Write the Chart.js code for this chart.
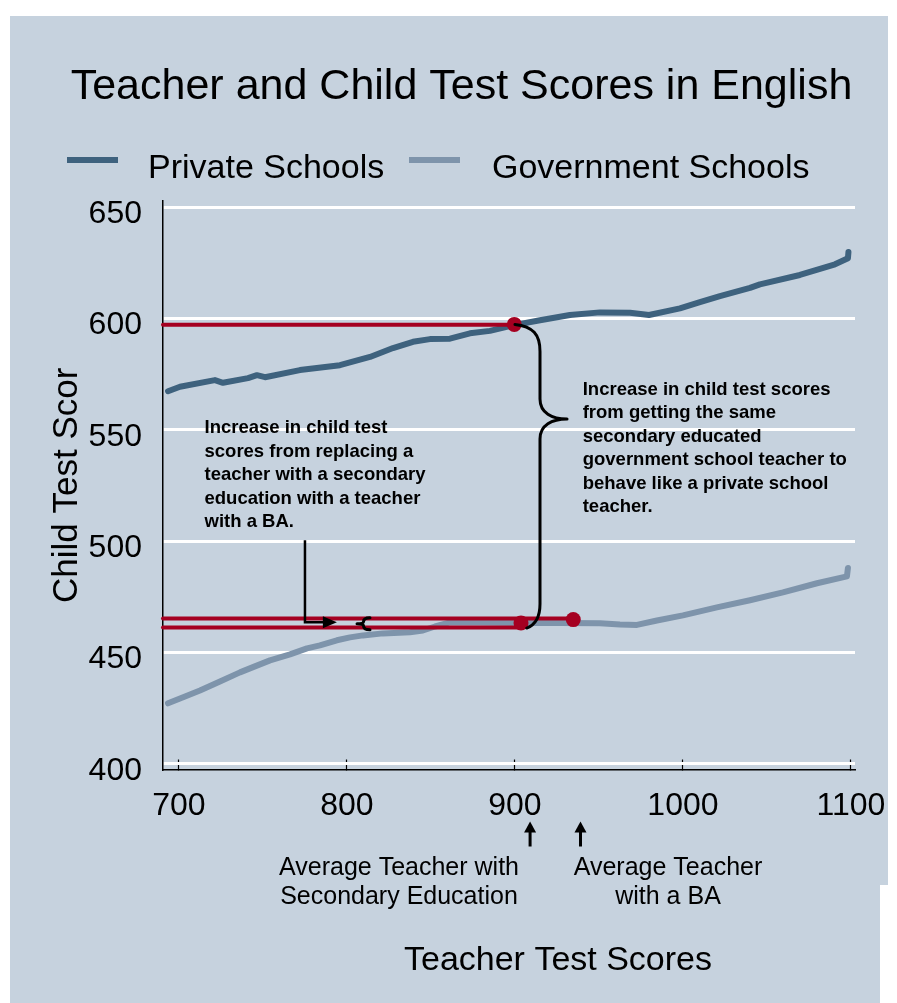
<!DOCTYPE html>
<html>
<head>
<meta charset="utf-8">
<script src="https://cdn.jsdelivr.net/npm/chart.js@4.4.1/dist/chart.umd.min.js"></script>
<style>
html,body{margin:0;padding:0;background:#ffffff;}
#wrap{position:relative;width:897px;height:1003px;}
canvas{display:block;}
</style>
</head>
<body>
<div id="wrap"><canvas id="c" width="897" height="1003"></canvas></div>
<script>
// ---------- data ----------
const seriesNames = ['Private Schools', 'Government Schools'];

const privateX = [693.5,700.6,721.4,726.2,741.1,746.4,751.2,772.0,795.8,813.7,827.4,839.3,849.4,861.3,873.2,885.1,899.4,914.9,932.7,950.6,968.5,979.8,998.2,1010.1,1022.0,1039.9,1045.8,1069.6,1090.5,1098.2,1098.5];
const privateY = [567.3,569.3,572.3,571.1,573.2,574.5,573.6,576.8,579.0,582.7,586.7,589.5,590.7,590.9,593.3,594.4,597.0,599.2,601.5,602.7,602.5,601.5,604.5,607.3,610.0,613.7,615.3,619.5,624.3,627.0,629.8];

const governmentX = [693.5,703.6,712.5,724.4,736.3,745.2,754.2,766.1,776.2,783.9,794.0,801.8,809.5,821.4,837.5,845.2,852.4,861.3,879.2,903.6,926.8,950.6,962.5,972.6,984.5,1000.0,1020.2,1039.9,1059.5,1079.8,1097.6,1098.2];
const governmentY = [427.2,430.3,433.0,437.0,441.1,443.8,446.5,449.2,451.9,453.2,455.5,456.8,457.7,458.6,459.1,459.9,461.7,463.5,463.5,463.3,463.3,463.1,462.6,462.4,464.4,466.7,470.3,473.5,477.0,481.1,484.2,488.0];

// reference levels (red lines end at these teacher scores)
const refLineEndX = [900, 934.7, 903.6];
const refLineY    = [597.2, 465.3, 461.3];
// highlighted points
const dotX = [899.6, 903.6, 934.7];
const dotY = [597.3, 463.3, 464.8];

const xTickValues = [700, 800, 900, 1000, 1100];
const yTickValues = [400, 450, 500, 550, 600, 650];
const xMin = 690.5, xMax = 1102.4;
const yMin = 397.5, yMax = 652.7;

// marker positions under the axis (teacher scores)
const avgSecondaryX = 909;
const avgBAX = 939;

const titleText = 'Teacher and Child Test Scores in English';
const yTitleText = 'Child Test Scor';
const xTitleText = 'Teacher Test Scores';
const noteLeft = ['Increase in child test','scores from replacing a','teacher with a secondary','education with a teacher','with a BA.'];
const noteRight = ['Increase in child test scores','from getting the same','secondary educated','government school teacher to','behave like a private school','teacher.'];
const labelSecondary = ['Average Teacher with','Secondary Education'];
const labelBA = ['Average Teacher','with a BA'];

// ---------- styling ----------
const FONT = "'Liberation Sans', Arial, Helvetica, sans-serif";
const C_PRIVATE = '#3e627e';
const C_GOV = '#7e94ab';
const C_RED = '#a50021';
const C_PANEL = '#c6d2de';

Chart.defaults.font.family = FONT;
Chart.defaults.color = '#000';

const pts = (xs, ys) => xs.map((x, i) => ({x: x, y: ys[i]}));

const datasets = [
  {label: seriesNames[0], data: pts(privateX, privateY), borderColor: C_PRIVATE, borderWidth: 6, order: 3},
  {label: seriesNames[1], data: pts(governmentX, governmentY), borderColor: C_GOV, borderWidth: 6, order: 3},
];
refLineEndX.forEach((xe, i) => {
  datasets.push({label: 'ref' + i, data: [{x: xMin, y: refLineY[i]}, {x: xe, y: refLineY[i]}],
    borderColor: C_RED, borderWidth: 4, order: 2});
});
datasets.push({label: 'dots', data: pts(dotX, dotY), showLine: false, pointRadius: 7.5,
  pointBackgroundColor: C_RED, pointBorderWidth: 0, borderColor: C_RED, order: 1});
datasets.forEach(d => {
  d.fill = false; d.tension = 0;
  if (d.pointRadius === undefined) d.pointRadius = 0;
  d.borderJoinStyle = 'round'; d.borderCapStyle = 'round';
  d.clip = false;
});

const panelPlugin = {
  id: 'panel',
  beforeDraw(chart) {
    const ctx = chart.ctx;
    ctx.save();
    ctx.fillStyle = C_PANEL;
    ctx.fillRect(10, 16, 878, 869);
    ctx.fillRect(10, 885, 870, 118);
    ctx.restore();
  }
};

function arrowHead(ctx, tx, ty, dx, dy, len, half) {
  const bx = tx - dx * len, by = ty - dy * len;
  ctx.beginPath();
  ctx.moveTo(tx, ty);
  ctx.lineTo(bx - dy * half, by + dx * half);
  ctx.lineTo(bx + dy * half, by - dx * half);
  ctx.closePath();
  ctx.fill();
}

const annotationPlugin = {
  id: 'notes',
  afterDatasetsDraw(chart) {
    const ctx = chart.ctx, xs = chart.scales.x, ys = chart.scales.y;
    const px = v => xs.getPixelForValue(v), py = v => ys.getPixelForValue(v);
    ctx.save();
    ctx.strokeStyle = '#000'; ctx.fillStyle = '#000';
    ctx.lineCap = 'round'; ctx.lineJoin = 'round';

    // big curly brace between the two school types
    const tX = px(900), tY = py(597.3);
    const bX = px(907), bY = py(461.0);
    const sX = px(914.9);
    const kX = px(931), kY = py(554.8);
    ctx.lineWidth = 3;
    ctx.beginPath();
    ctx.moveTo(tX, tY);
    ctx.bezierCurveTo(tX + 18, tY + 2, sX, tY + 10, sX, tY + 27);
    ctx.lineTo(sX, kY - 20);
    ctx.bezierCurveTo(sX, kY - 6, sX + 12, kY, kX, kY);
    ctx.bezierCurveTo(sX + 12, kY, sX, kY + 6, sX, kY + 20);
    ctx.lineTo(sX, bY - 24);
    ctx.bezierCurveTo(sX, bY - 10, sX - 5, bY - 3, bX, bY);
    ctx.stroke();

    // small brace between the two lower red lines
    const lx = px(806), rx = px(813.7);
    const y1 = py(465.6), y2 = py(460.2), ym = (y1 + y2) / 2, mx = (lx + rx) / 2;
    ctx.lineWidth = 3;
    ctx.beginPath();
    ctx.moveTo(rx, y1);
    ctx.quadraticCurveTo(mx, y1, mx, ym - 2);
    ctx.quadraticCurveTo(mx, ym, lx, ym);
    ctx.quadraticCurveTo(mx, ym, mx, ym + 2);
    ctx.quadraticCurveTo(mx, y2, rx, y2);
    ctx.stroke();

    // L-shaped arrow from the left note
    const ax = px(775), ay0 = py(500.4), ay1 = py(463.6), atip = px(794);
    ctx.lineWidth = 2.5; ctx.lineCap = 'butt'; ctx.lineJoin = 'miter';
    ctx.beginPath();
    ctx.moveTo(ax, ay0);
    ctx.lineTo(ax, ay1);
    ctx.lineTo(atip - 10, ay1);
    ctx.stroke();
    arrowHead(ctx, atip, ay1, 1, 0, 14, 6);
    ctx.restore();
  }
};

const textPlugin = {
  id: 'texts',
  afterDraw(chart) {
    const ctx = chart.ctx, xs = chart.scales.x, area = chart.chartArea;
    ctx.save();
    ctx.fillStyle = '#000';
    ctx.textBaseline = 'alphabetic';

    // title
    ctx.font = '43px ' + FONT;
    ctx.textAlign = 'center';
    ctx.fillText(titleText, 461.5, 99);

    // legend
    ctx.font = '34px ' + FONT;
    ctx.textAlign = 'left';
    ctx.fillStyle = C_PRIVATE; ctx.fillRect(67, 157, 51, 6);
    ctx.fillStyle = C_GOV; ctx.fillRect(409, 157, 51, 6);
    ctx.fillStyle = '#000';
    ctx.fillText(seriesNames[0], 148, 178);
    ctx.fillText(seriesNames[1], 492, 178);

    // notes inside the plot
    ctx.font = 'bold 18.5px ' + FONT;
    noteLeft.forEach((s, i) => ctx.fillText(s, 204.5, 433.3 + i * 23.5));
    noteRight.forEach((s, i) => ctx.fillText(s, 582.7, 395 + i * 23.4));

    // up arrows under the axis
    const base = area.bottom;
    [avgSecondaryX, avgBAX].forEach(v => {
      const x = xs.getPixelForValue(v);
      ctx.lineWidth = 3; ctx.strokeStyle = '#000';
      ctx.beginPath();
      ctx.moveTo(x, base + 77);
      ctx.lineTo(x, base + 60);
      ctx.stroke();
      arrowHead(ctx, x, base + 52, 0, -1, 11, 6);
    });

    // marker labels
    ctx.font = '25px ' + FONT;
    ctx.textAlign = 'center';
    labelSecondary.forEach((s, i) => ctx.fillText(s, 399, 875 + i * 29));
    labelBA.forEach((s, i) => ctx.fillText(s, 668, 875 + i * 29));

    // x axis title
    ctx.font = '34px ' + FONT;
    ctx.fillText(xTitleText, 558, 970);
    ctx.restore();
  }
};

new Chart(document.getElementById('c'), {
  type: 'line',
  data: {datasets: datasets},
  plugins: [panelPlugin, annotationPlugin, textPlugin],
  options: {
    responsive: false,
    devicePixelRatio: 1,
    animation: false,
    events: [],
    layout: {padding: {top: 201, right: 42, bottom: 0, left: 0}},
    plugins: {legend: {display: false}, tooltip: {enabled: false}, title: {display: false}},
    scales: {
      x: {
        type: 'linear', min: xMin, max: xMax,
        afterBuildTicks: s => { s.ticks = xTickValues.map(v => ({value: v})); },
        afterFit: s => { s.height = 1003 - 769.5; s.paddingLeft = 0; s.paddingRight = 0; },
        grid: {drawOnChartArea: false, drawTicks: true, tickLength: -10, tickColor: '#000', tickWidth: 1.2},
        border: {display: true, color: '#000', width: 1.5},
        ticks: {font: {size: 32}, color: '#000', padding: 27, maxRotation: 0, autoSkip: false,
          callback: v => String(v)}
      },
      y: {
        type: 'linear', min: yMin, max: yMax,
        afterBuildTicks: s => { s.ticks = yTickValues.map(v => ({value: v})); },
        afterFit: s => { s.width = 163; s.paddingTop = 0; s.paddingBottom = 0; },
        grid: {color: '#ffffff', lineWidth: 3, drawTicks: false},
        border: {display: true, color: '#000', width: 1.5},
        ticks: {font: {size: 32}, color: '#000', padding: 21, labelOffset: 7, callback: v => String(v)},
        title: {display: true, text: yTitleText, font: {size: 35}, color: '#000', padding: {top: 46, bottom: 0}}
      }
    }
  }
});
</script>
</body>
</html>
